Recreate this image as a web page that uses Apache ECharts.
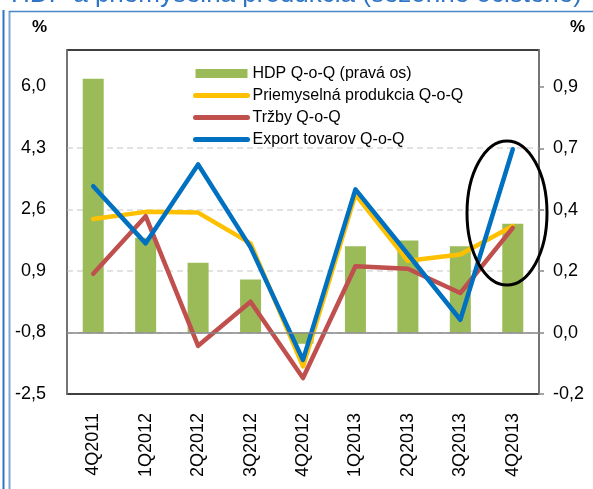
<!DOCTYPE html>
<html>
<head>
<meta charset="utf-8">
<script src="https://cdn.jsdelivr.net/npm/echarts@6/dist/echarts.min.js"></script>
<style>
  html, body { margin: 0; padding: 0; background: #fff; }
  #chart { width: 593px; height: 489px; }
</style>
</head>
<body>
<div id="chart"></div>
<script>
// kvartály
const quarters = ['4Q2011', '1Q2012', '2Q2012', '3Q2012', '4Q2012', '1Q2013', '2Q2013', '3Q2013', '4Q2013'];
// HDP Q-o-Q (pravá os)
const hdp = [0.91, 0.34, 0.25, 0.19, -0.04, 0.31, 0.33, 0.31, 0.39];
// ľavá os
const priemysel = [2.33, 2.53, 2.51, 1.66, -1.74, 3.01, 1.18, 1.35, 2.14];
const trzby = [0.82, 2.41, -1.17, 0.05, -2.06, 1.03, 0.96, 0.29, 2.09];
const exportTovarov = [3.24, 1.66, 3.84, 1.55, -1.56, 3.15, 1.36, -0.45, 4.26];

const leftTicks = [-2.5, -0.8, 0.9, 2.6, 4.3, 6.0];
const rightTicks = [-0.22, 0, 0.22, 0.44, 0.66, 0.88];
const rightTickLabels = ['-0,2', '0,0', '0,2', '0,4', '0,7', '0,9'];

const FONT = 'Liberation Sans';

const chart = echarts.init(document.getElementById('chart'));

const lineSeries = (name, data, color) => ({
  name: name,
  type: 'line',
  yAxisIndex: 0,
  data: data,
  symbol: 'none',
  smooth: false,
  lineStyle: { color: color, width: 4.5, cap: 'round', join: 'round' },
  itemStyle: { color: color }
});

// v legende len čiara bez bodu
const lineLegendItem = name => ({ name: name, itemStyle: { opacity: 0 } });

const option = {
  animation: false,
  textStyle: { fontFamily: FONT },
  grid: {
    left: 67, right: 54, top: 50, bottom: 95,
    show: true, borderColor: '#000', borderWidth: 1.5
  },
  legend: {
    orient: 'vertical',
    left: 188,
    top: 59,
    itemWidth: 52,
    itemHeight: 9,
    itemGap: 3,
    textStyle: { fontFamily: FONT, fontSize: 16, color: '#000', lineHeight: 19 },
    lineStyle: { width: 5, cap: 'round' },
    data: [
      { name: 'HDP Q-o-Q (pravá os)', icon: 'rect' },
      lineLegendItem('Priemyselná produkcia Q-o-Q'),
      lineLegendItem('Tržby Q-o-Q'),
      lineLegendItem('Export tovarov Q-o-Q')
    ]
  },
  xAxis: {
    type: 'category',
    data: quarters,
    axisLine: { show: false },
    axisTick: { show: false },
    axisLabel: { rotate: 90, margin: 19, fontSize: 18, color: '#000', fontFamily: FONT }
  },
  yAxis: [
    {
      type: 'value',
      position: 'left',
      min: -2.5,
      max: 7.0,
      name: '%',
      nameLocation: 'end',
      nameGap: 14,
      nameTextStyle: { align: 'right', padding: [0, 20, 0, 0], fontWeight: 'bold', fontSize: 17, color: '#000', fontFamily: FONT },
      axisLine: { show: true, lineStyle: { color: '#868686', width: 1.5 } },
      axisTick: { show: false, customValues: leftTicks },
      axisLabel: {
        customValues: leftTicks,
        margin: 21,
        fontSize: 18,
        color: '#000',
        fontFamily: FONT,
        formatter: v => v.toFixed(1).replace('.', ',')
      },
      splitLine: {
        show: true, showMinLine: false, showMaxLine: false,
        lineStyle: { color: '#D9D9D9', type: [6, 4], width: 1.5 }
      }
    },
    {
      type: 'value',
      position: 'right',
      min: -0.22,
      max: 1.013,
      name: '%',
      nameLocation: 'end',
      nameGap: 14,
      nameTextStyle: { align: 'left', padding: [0, 0, 0, 31], fontWeight: 'bold', fontSize: 17, color: '#000', fontFamily: FONT },
      axisLine: { show: true, lineStyle: { color: '#868686', width: 1.5 } },
      axisTick: { show: true, inside: false, length: 5, customValues: rightTicks, lineStyle: { color: '#868686', width: 1.5 } },
      axisLabel: {
        customValues: rightTicks,
        margin: 14,
        fontSize: 18,
        color: '#000',
        fontFamily: FONT,
        formatter: v => {
          const i = rightTicks.findIndex(t => Math.abs(t - v) < 1e-6);
          return i >= 0 ? rightTickLabels[i] : '';
        }
      },
      splitLine: { show: false }
    }
  ],
  series: [
    {
      name: 'HDP Q-o-Q (pravá os)',
      type: 'bar',
      yAxisIndex: 1,
      data: hdp,
      barWidth: 21,
      itemStyle: { color: '#9BBB59' },
      markLine: {
        silent: true,
        symbol: 'none',
        label: { show: false },
        lineStyle: { color: '#868686', type: 'solid', width: 1.5 },
        data: [{ yAxis: 0 }]
      }
    },
    lineSeries('Priemyselná produkcia Q-o-Q', priemysel, '#FFC000'),
    lineSeries('Tržby Q-o-Q', trzby, '#C0504D'),
    lineSeries('Export tovarov Q-o-Q', exportTovarov, '#0070C0')
  ],
  graphic: [
    // orezaný nadpis a rámček
    {
      type: 'text', left: 'center', top: -18, z: 1,
      style: { text: 'HDP a priemyselná produkcia (sezónne očistené)', font: '26px "Liberation Sans"', fill: '#2E75C6' }
    },
    { type: 'line', shape: { x1: 3.5, y1: 10, x2: 3.5, y2: 489 }, style: { stroke: '#2E75C6', lineWidth: 2 } },
    { type: 'line', shape: { x1: 9.5, y1: 11, x2: 9.5, y2: 489 }, style: { stroke: '#7EA6DA', lineWidth: 2 } },
    { type: 'line', shape: { x1: 9, y1: 11.5, x2: 593, y2: 11.5 }, style: { stroke: '#4A86C8', lineWidth: 1.5 } },
    // zvýraznenie posledného kvartálu
    {
      type: 'ellipse', z: 100,
      shape: { cx: 507, cy: 213, rx: 40, ry: 72 },
      style: { fill: 'none', stroke: '#000', lineWidth: 3 }
    }
  ]
};

chart.setOption(option);
</script>
</body>
</html>
